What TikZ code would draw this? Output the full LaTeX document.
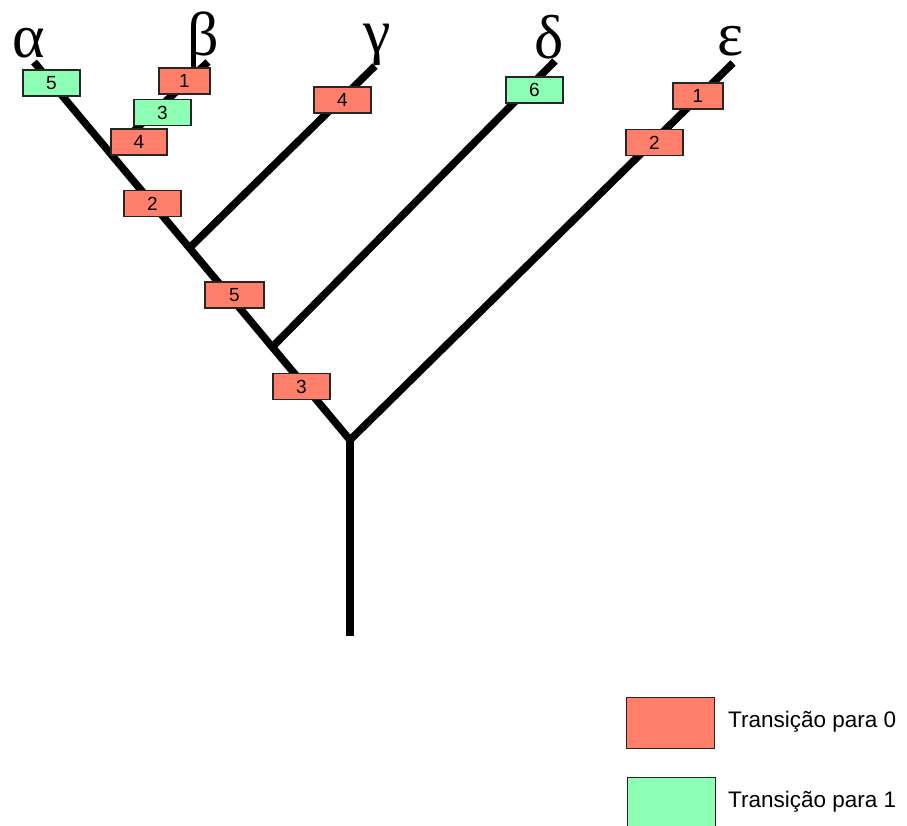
\documentclass[tikz,border=0pt]{standalone}
\usepackage{fontspec}
\setmainfont{Liberation Sans}
\newfontfamily\gk{Liberation Serif}
\usetikzlibrary{calc}
\definecolor{tred}{RGB}{255,127,107}
\definecolor{tgreen}{RGB}{140,255,180}
\tikzset{
  branch/.style={line width=7.5pt, line cap=butt, line join=miter},
  tbox/.style={draw=black!85, line width=1.2pt, minimum height=26pt, minimum width=57pt, inner sep=0pt, font=\fontsize{19}{19}\selectfont},
  zero/.style={tbox, fill=tred},
  one/.style={tbox, fill=tgreen},
  taxon/.style={anchor=base, inner sep=0pt, font=\gk\fontsize{62}{62}\selectfont},
  legbox/.style={draw=black!85, line width=1.2pt, minimum width=88pt, minimum height=51pt, inner sep=0pt, anchor=north west},
  legtext/.style={anchor=west, inner sep=0pt, font=\fontsize{22.5}{22.5}\selectfont}
}
\begin{document}
\begin{tikzpicture}[x=1pt,y=-1pt]
\useasboundingbox (0,0) rectangle (907,825);
% coordinates
\coordinate (root) at (350,440);
\coordinate (base) at (350,636);
\coordinate (aT) at (34,62);
\coordinate (bT) at (208,62);
\coordinate (gT) at (375,66);
\coordinate (dT) at (555,61);
\coordinate (eT) at (733,63);
\coordinate (bJ) at ($(root)!0.759!(aT)$);
\coordinate (gJ) at ($(root)!0.508!(aT)$);
\coordinate (dJ) at ($(root)!0.246!(aT)$);
% branches
\draw[branch] (aT) -- (root) -- (eT);
\draw[branch] (root) -- (base);
\draw[branch] (bJ) -- (bT);
\draw[branch] (gJ) -- (gT);
\draw[branch] (dJ) -- (dT);
% labels
\node[taxon] (la) at (29,57) {α};
\node[taxon] (lb) at (203,55) {β};
\node[taxon] (lg) at (377,52) {γ};
\node[taxon] (ld) at (549,58) {δ};
\node[taxon] (le) at (731,55) {ε};
% transition boxes
\node[one]  (a5) at (51.5,83) {5};
\node[zero, minimum width=51pt] (b1) at (184.5,81) {1};
\node[one]  (b3) at (162.5,112.5) {3};
\node[zero, minimum width=56pt] (b4) at (139,142) {4};
\node[zero] (a2) at (152.5,203.5) {2};
\node[zero] (g4) at (342.5,100) {4};
\node[one]  (d6) at (534.5,90) {6};
\node[zero, minimum width=50pt] (e1) at (698,96) {1};
\node[zero] (e2) at (654.5,142.5) {2};
\node[zero, minimum width=59pt] (m5) at (234.5,295) {5};
\node[zero] (m3) at (301.5,386.5) {3};
% legend
\node[legbox, fill=tred] (lr) at (626,697) {};
\node[legbox, fill=tgreen] (lgr) at (627,777) {};
\node[legtext] (t0) at (728,722) {Transição para 0};
\node[legtext] (t1) at (728,802) {Transição para 1};
\end{tikzpicture}
\end{document}
